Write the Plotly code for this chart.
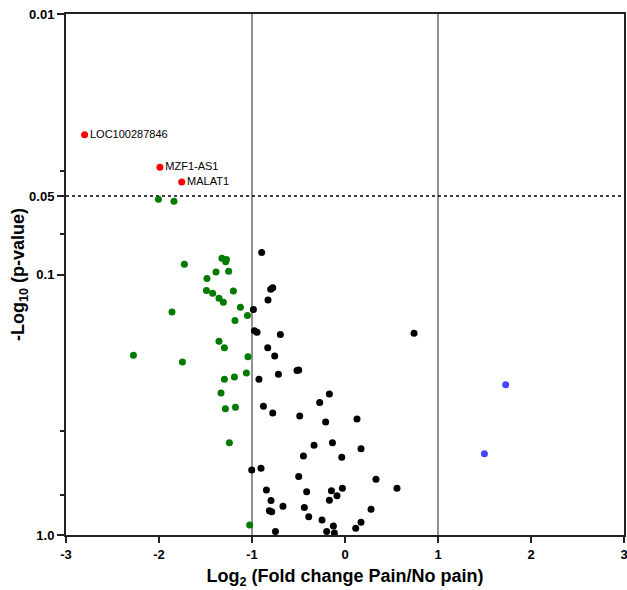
import plotly.graph_objects as go

# Values: x = log2 fold change, y = -log10(p-value)
red_labels = ["LOC100287846", "MZF1-AS1", "MALAT1"]
red_x = [-2.80, -1.99, -1.756]
red_y = [1.536, 1.412, 1.355]

green_x = [-2.006, -1.839, -1.323, -1.275, -1.283, -1.727, -1.387, -1.251, -1.484, -1.490,
           -1.423, -1.200, -1.355, -1.308, -1.125, -1.860, -1.049, -1.183, -1.355, -1.297,
           -2.275, -1.043, -1.748, -1.060, -1.189, -1.297, -1.333, -1.286, -1.178, -1.243,
           -1.025]
green_y = [1.289, 1.281, 1.062, 1.058, 1.049, 1.039, 1.010, 1.012, 0.985, 0.939,
           0.928, 0.937, 0.909, 0.893, 0.874, 0.856, 0.843, 0.823, 0.744, 0.719,
           0.690, 0.684, 0.664, 0.622, 0.607, 0.598, 0.545, 0.485, 0.490, 0.354,
           0.038]

black_x = [-0.896, -0.777, -0.799, -0.828, -0.985, -0.974, -0.946, -0.695, 0.742, -0.831,
           -0.756, -0.516, -0.498, -0.716, -0.925, -0.168, -0.272, -0.877, -0.777, -0.487,
           -0.208, 0.129, -0.333, -0.135, 0.172, -0.447, -0.035, -1.003, -0.903, -0.498,
           0.333, 0.559, -0.845, -0.412, -0.146, -0.028, -0.086, -0.796, -0.168, -0.813,
           -0.788, -0.667, -0.437, 0.280, -0.390, -0.247, -0.125, 0.172, 0.115, -0.748,
           -0.197, -0.114]
black_y = [1.084, 0.949, 0.943, 0.902, 0.866, 0.784, 0.778, 0.770, 0.774, 0.719,
           0.687, 0.631, 0.633, 0.617, 0.598, 0.541, 0.509, 0.494, 0.468, 0.457,
           0.434, 0.445, 0.345, 0.354, 0.331, 0.303, 0.298, 0.250, 0.256, 0.225,
           0.214, 0.179, 0.173, 0.166, 0.170, 0.179, 0.151, 0.132, 0.133, 0.093,
           0.089, 0.110, 0.106, 0.099, 0.070, 0.058, 0.035, 0.049, 0.026, 0.013,
           0.013, 0.008]

blue_x = [1.728, 1.499]
blue_y = [0.577, 0.312]

y_tickvals = [2.0, 1.30103, 1.0, 0.0]
y_ticktext = ["0.01", "0.05", "0.1", "1.0"]
y_minor = [1.39794, 1.15490, 0.39794, 0.15490]
x_tickvals = [-3, -2, -1, 0, 1, 2, 3]
x_ticktext = ["-3", "-2", "-1", "0", "1", "2", "3"]
p_threshold = 1.30103
fc_lines = [-1, 1]

fig = go.Figure()
ms = 7
fig.add_trace(go.Scatter(x=black_x, y=black_y, mode="markers", cliponaxis=False,
                         marker=dict(color="black", size=ms)))
fig.add_trace(go.Scatter(x=green_x, y=green_y, mode="markers", cliponaxis=False,
                         marker=dict(color="#007a00", size=ms)))
fig.add_trace(go.Scatter(x=blue_x, y=blue_y, mode="markers", cliponaxis=False,
                         marker=dict(color="#4646ff", size=ms)))
fig.add_trace(go.Scatter(x=red_x, y=red_y, mode="markers+text", cliponaxis=False,
                         text=red_labels, textposition="middle right",
                         textfont=dict(family="Liberation Sans, Arial", size=11, color="black"),
                         marker=dict(color="#ff0000", size=ms)))

for xv in fc_lines:
    fig.add_shape(type="line", xref="x", yref="y", x0=xv, x1=xv, y0=0, y1=2,
                  line=dict(color="#555555", width=1.3), layer="below")
fig.add_shape(type="line", xref="x", yref="y", x0=-3, x1=3, y0=p_threshold, y1=p_threshold,
              line=dict(color="black", width=1.5, dash="dot"), layer="below")

fig.update_layout(
    width=627, height=590,
    margin=dict(l=66, r=3, t=14, b=55),
    paper_bgcolor="white", plot_bgcolor="white",
    showlegend=False,
    font=dict(family="Liberation Sans, Arial", color="black"),
)
fig.update_xaxes(
    range=[-3, 3], tickvals=x_tickvals, ticktext=x_ticktext, automargin=False,
    ticklabeloverflow="allow",
    showgrid=False, zeroline=False,
    showline=True, linecolor="#222222", linewidth=2, mirror=True,
    ticks="outside", ticklen=6, tickwidth=2, tickcolor="#222222",
    tickfont=dict(size=13, family="Liberation Sans, Arial", weight="bold"),
    title=dict(text="Log<sub>2</sub> (Fold change Pain/No pain)",
               font=dict(size=18, family="Liberation Sans, Arial", weight="bold"), standoff=9),
)
fig.update_yaxes(
    range=[0, 2], tickvals=y_tickvals, ticktext=y_ticktext, automargin=False,
    ticklabeloverflow="allow",
    showgrid=False, zeroline=False,
    showline=True, linecolor="#222222", linewidth=2, mirror=True,
    ticks="outside", ticklen=7, tickwidth=2, tickcolor="#222222",
    tickfont=dict(size=13, family="Liberation Sans, Arial", weight="bold"),
    minor=dict(tickvals=y_minor, ticks="outside", ticklen=4, tickwidth=2, tickcolor="#222222"),
    title=dict(text="-Log<sub>10</sub> (p-value)",
               font=dict(size=18, family="Liberation Sans, Arial", weight="bold"), standoff=0),
)

fig.write_html("out.html", config={"displayModeBar": False},
               post_script="document.body.style.margin='0';document.body.style.overflow='hidden';")
